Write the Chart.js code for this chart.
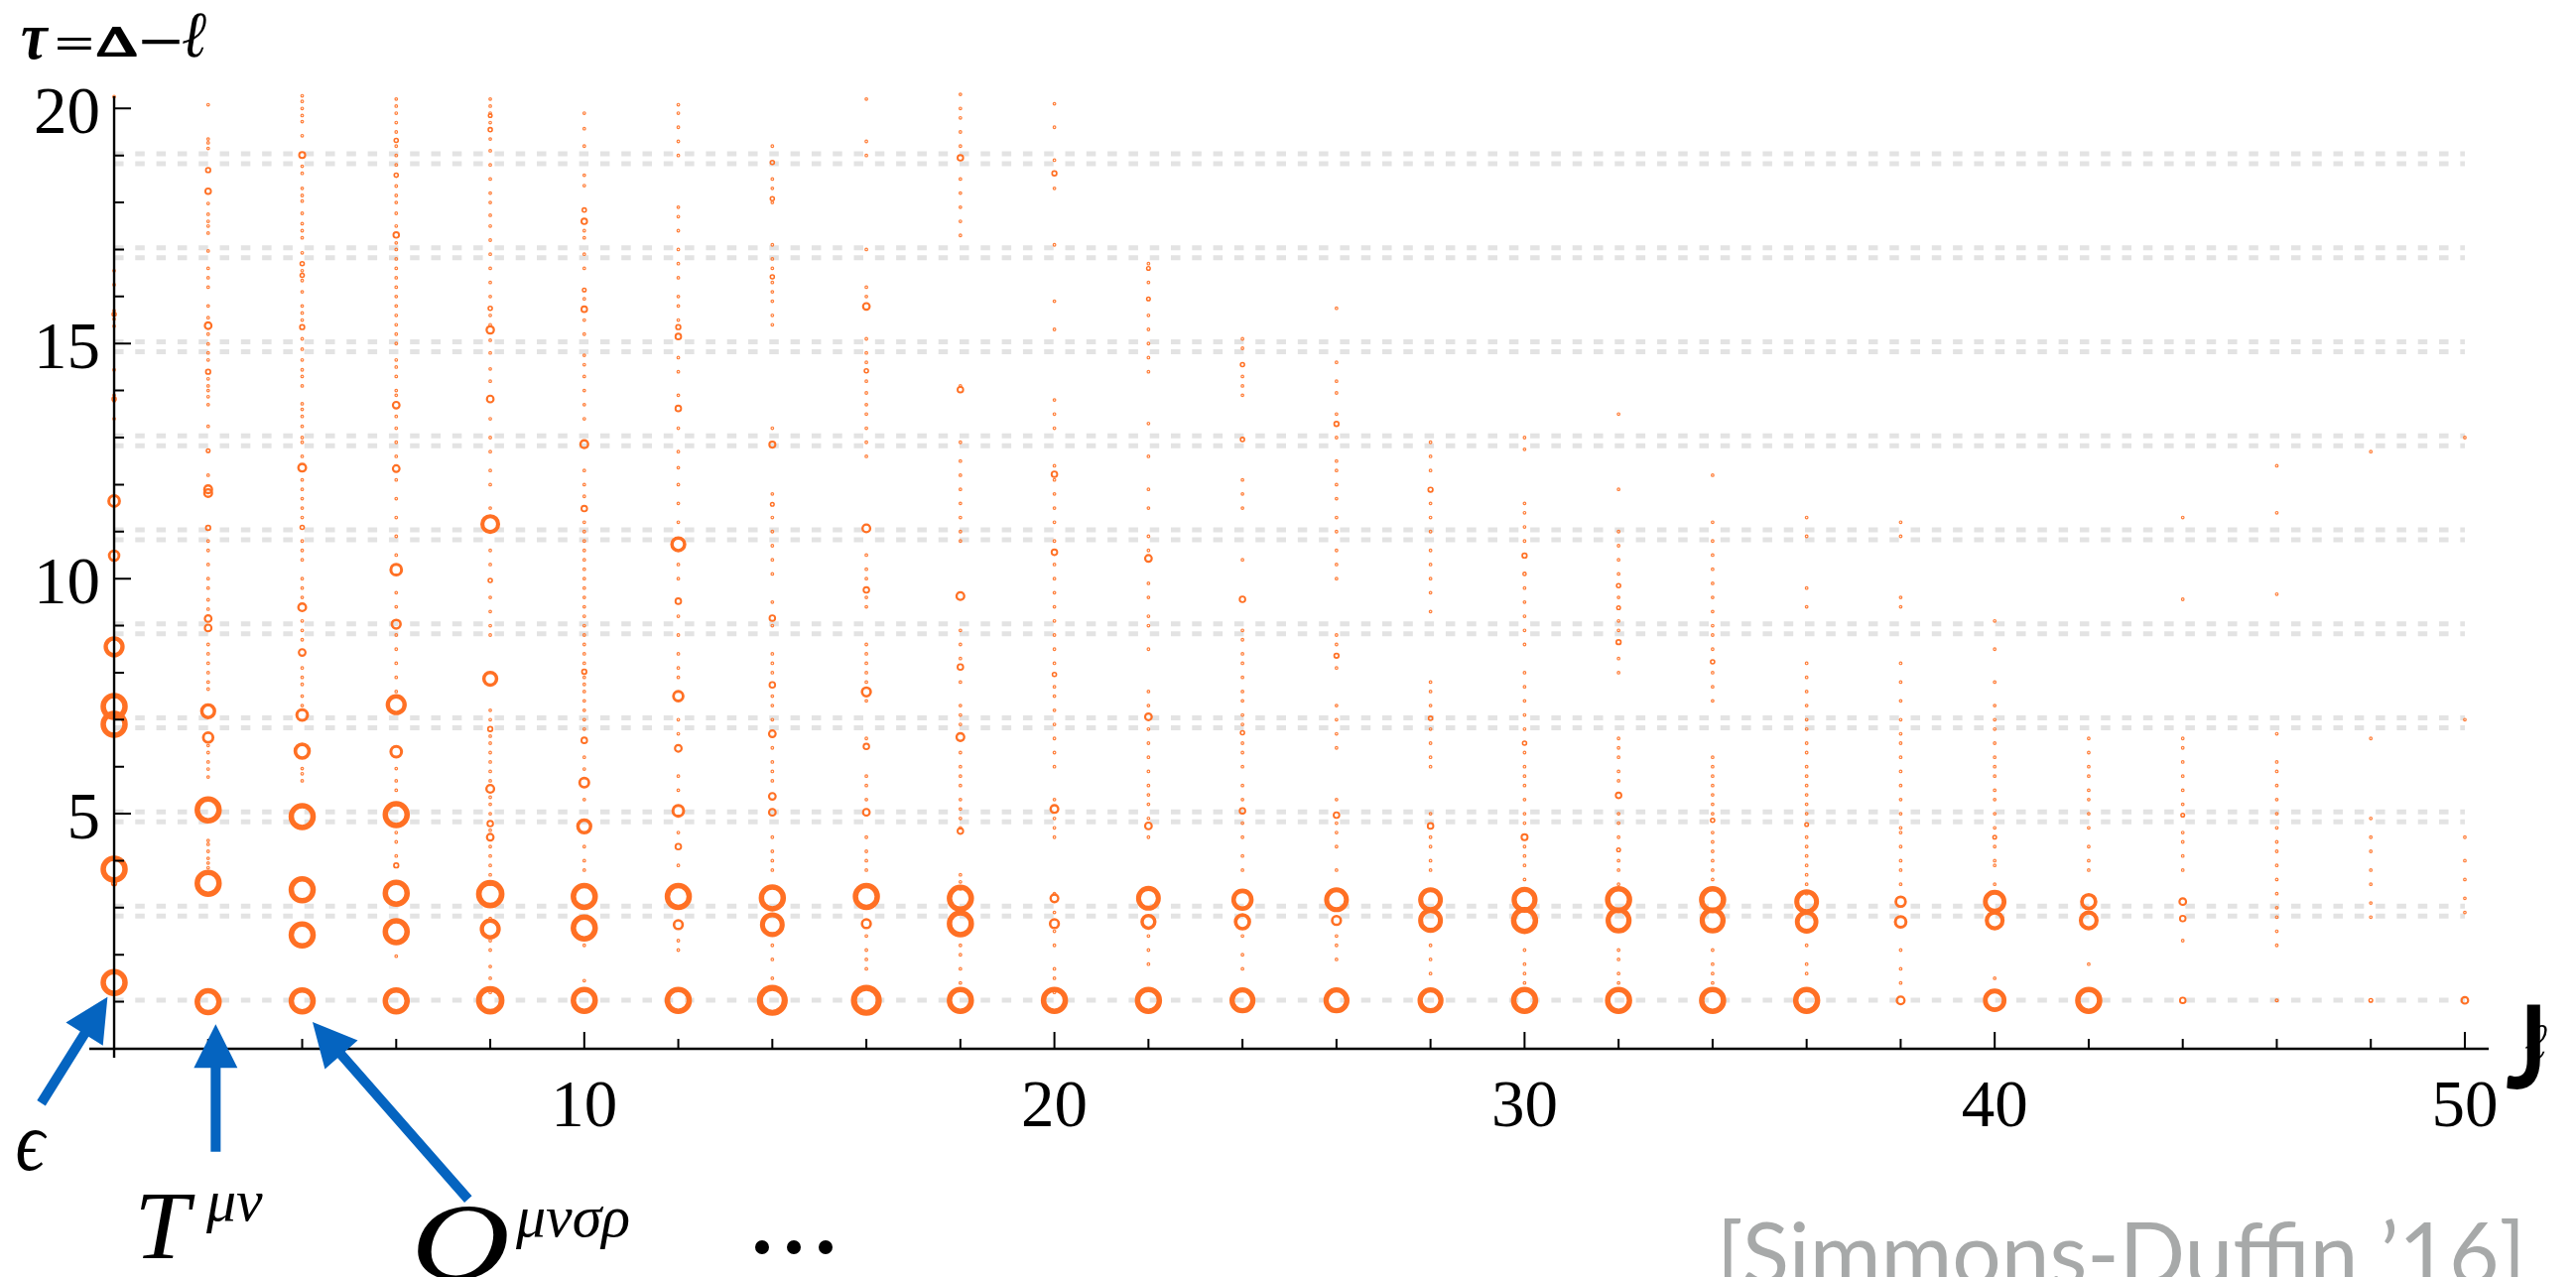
<!DOCTYPE html>
<html>
<head>
<meta charset="utf-8">
<script src="https://cdn.jsdelivr.net/npm/chart.js@4.4.1/dist/chart.umd.min.js"></script>
<style>
  html, body { margin: 0; padding: 0; background: #ffffff; overflow: hidden; }
  canvas { display: block; }
</style>
</head>
<body>
<canvas id="spectrum" width="2596" height="1287"></canvas>
<script>
// ---- 3d Ising Z2-even spectrum: twist tau = Delta - l against spin J ----
const spins = [0, 2, 4, 6, 8, 10, 12, 14, 16, 18, 20, 22, 24, 26, 28, 30, 32, 34, 36, 38, 40, 42, 44, 46, 48, 50];

// Resolved operators per spin: [tau, relative OPE weight]
const ops0  = [[1.41,1],[3.52,0.15],[3.82,1],[6.90,1],[7.28,1],[8.55,0.75],[10.49,0.4],[11.65,0.45],[13.82,0.12],[15.62,0.12]];
const ops2  = [[1.00,1],[3.52,1],[5.08,1],[6.62,0.4],[7.18,0.55],[8.95,0.25],[9.15,0.25],[11.08,0.15],[11.82,0.3],[11.90,0.3],[12.72,0.1],[14.40,0.15],[15.38,0.25],[18.24,0.2],[18.69,0.15]];
const ops4  = [[1.02,1],[2.42,1],[3.38,1],[4.94,1],[6.33,0.6],[7.10,0.45],[8.43,0.25],[9.39,0.3],[11.09,0.12],[12.36,0.3],[15.35,0.15],[16.45,0.12],[16.70,0.12],[19.01,0.22]];
const ops6  = [[1.02,1],[2.49,1],[3.31,1],[3.90,0.15],[4.98,1],[6.32,0.45],[7.32,0.75],[9.03,0.35],[10.19,0.45],[12.34,0.25],[13.69,0.25],[17.31,0.2],[18.58,0.12],[19.32,0.12]];
const ops8  = [[1.03,1.05],[2.55,0.75],[3.29,1.05],[4.50,0.25],[4.79,0.2],[5.53,0.3],[6.80,0.15],[7.87,0.55],[9.96,0.12],[11.16,0.7],[13.82,0.25],[15.29,0.28],[15.75,0.12],[19.55,0.12],[19.85,0.1]];
const ops10 = [[1.03,1],[2.57,1],[3.24,1],[4.73,0.55],[5.66,0.38],[6.56,0.2],[8.02,0.15],[11.49,0.2],[12.86,0.3],[15.73,0.2],[16.14,0.1],[17.60,0.2],[17.84,0.12]];
const ops12 = [[1.03,1],[2.64,0.35],[3.24,1],[4.30,0.2],[5.06,0.45],[6.39,0.25],[7.50,0.4],[9.52,0.2],[10.73,0.55],[13.62,0.2],[15.15,0.2],[15.35,0.15]];
const ops14 = [[1.03,1.15],[2.64,0.9],[3.21,1],[5.03,0.25],[5.37,0.25],[6.70,0.25],[7.74,0.2],[9.16,0.2],[11.58,0.1],[12.85,0.22],[16.42,0.12],[18.08,0.12],[18.85,0.12]];
const ops16 = [[1.03,1.15],[2.66,0.35],[3.24,1],[5.03,0.25],[6.43,0.2],[7.59,0.35],[9.76,0.2],[11.07,0.3],[14.42,0.12],[15.79,0.25]];
const ops18 = [[1.03,1],[2.66,1],[3.20,1],[4.63,0.2],[6.63,0.3],[8.12,0.2],[9.63,0.3],[14.02,0.2],[18.95,0.2]];
const ops20 = [[1.03,1],[2.66,0.35],[3.20,0.3],[5.10,0.3],[7.96,0.12],[10.56,0.2],[12.22,0.2],[18.62,0.15]];
const ops22 = [[1.03,1],[2.70,0.55],[3.20,0.9],[4.74,0.25],[7.06,0.25],[10.43,0.25],[15.95,0.1],[16.60,0.1]];
const ops24 = [[1.03,0.95],[2.70,0.6],[3.17,0.8],[5.06,0.2],[6.72,0.12],[9.56,0.2],[12.96,0.12],[14.55,0.12]];
const ops26 = [[1.03,0.95],[2.73,0.35],[3.17,0.9],[4.97,0.2],[8.36,0.15],[13.29,0.15]];
const ops28 = [[1.03,0.95],[2.73,0.9],[3.17,0.9],[4.74,0.2],[7.03,0.12],[11.89,0.15]];
const ops30 = [[1.03,1],[2.73,1],[3.17,0.95],[4.50,0.22],[6.50,0.12],[10.10,0.08],[10.49,0.15]];
const ops32 = [[1.03,1],[2.73,0.95],[3.17,1],[4.23,0.1],[5.39,0.2],[8.65,0.15],[9.38,0.1],[9.85,0.12]];
const ops34 = [[1.03,1],[2.73,0.95],[3.17,1],[4.86,0.12],[8.23,0.12]];
const ops36 = [[1.03,1],[2.70,0.85],[3.13,0.9],[4.77,0.1]];
const ops38 = [[1.03,0.3],[2.70,0.45],[3.13,0.4]];
const ops40 = [[1.03,0.85],[2.73,0.7],[3.13,0.85],[4.50,0.1]];
const ops42 = [[1.03,1],[2.73,0.7],[3.13,0.6]];
const ops44 = [[1.03,0.2],[2.77,0.2],[3.13,0.25],[4.97,0.1]];
const ops46 = [[1.03,0.06]];
const ops48 = [[1.03,0.1]];
const ops50 = [[1.03,0.25]];

// Weakly coupled operators per spin (tau only)
const faint0  = [13.40,13.78,13.90,14.44,15.37,15.52,15.70,16.25,16.55,20.25];
const faint2  = [3.85,3.95,4.05,4.20,4.35,4.43,5.78,5.95,6.10,6.30,6.45,7.65,7.80,8.00,8.20,8.40,8.60,9.35,9.55,9.80,10.00,10.30,10.60,10.80,12.20,13.24,13.70,13.87,14.00,14.10,14.25,14.65,14.80,14.99,15.20,15.55,15.80,16.20,16.40,16.60,16.97,17.35,17.50,17.60,17.75,17.98,19.15,19.27,19.35,20.08];
const faint4  = [5.70,5.85,5.96,7.30,7.50,7.75,7.90,8.10,8.70,8.90,9.10,9.60,9.80,10.00,10.40,10.60,10.80,11.30,11.50,11.70,11.90,12.10,12.60,12.90,13.00,13.24,13.45,13.60,13.72,14.10,14.30,14.44,14.65,14.88,15.10,15.50,15.65,15.80,16.10,16.34,16.55,16.93,17.25,17.40,17.55,17.77,18.03,18.15,18.30,18.62,18.77,19.42,19.72,19.85,20.00,20.15,20.27];
const faint6  = [1.97,4.10,4.40,4.60,5.50,5.70,5.96,7.60,7.90,8.20,8.50,8.80,9.40,9.70,10.50,10.90,11.30,11.70,12.10,12.60,12.90,13.20,13.45,13.90,14.00,14.30,14.50,14.65,15.00,15.20,15.40,15.60,15.80,16.00,16.20,16.40,16.60,16.80,17.00,17.14,17.50,17.77,18.00,18.15,18.35,18.80,19.00,19.20,19.50,19.70,19.90,20.05,20.20];
const faint8  = [1.20,1.50,1.75,2.10,2.30,2.77,3.50,3.70,3.90,4.10,4.30,4.65,5.00,5.20,5.35,5.70,5.90,6.10,6.30,6.50,6.65,7.00,7.20,8.80,9.00,9.30,9.60,10.30,10.60,11.50,12.00,12.30,12.70,13.00,13.40,14.20,14.46,14.80,15.07,15.40,15.60,16.00,16.30,16.60,16.90,17.20,17.50,17.73,18.00,18.20,18.50,18.80,19.10,19.35,19.70,19.90,20.05,20.20];
const faint10 = [1.45,2.20,3.80,4.00,4.30,5.30,5.95,6.20,6.80,7.00,7.20,7.40,7.60,7.75,7.90,8.20,8.40,8.60,8.80,9.00,9.20,9.40,9.60,9.80,10.00,10.20,10.40,10.60,10.80,11.00,11.20,11.75,12.00,12.30,13.40,13.70,14.00,14.30,14.55,14.75,15.20,15.50,15.95,16.60,16.90,17.25,17.40,18.36,18.58,19.20,19.57,19.90];
const faint12 = [2.10,2.30,3.90,4.60,5.50,5.80,6.70,7.00,7.90,8.10,8.40,8.80,9.20,10.00,10.30,11.20,11.60,12.00,12.36,12.70,13.20,13.90,14.40,14.70,15.50,15.80,16.00,16.40,16.70,17.00,17.40,17.70,17.90,19.00,19.30,19.60,19.90,20.08];
const faint14 = [1.50,1.90,2.20,3.80,4.00,4.20,4.50,5.70,5.90,6.10,6.40,7.00,7.30,7.50,8.00,8.20,8.40,9.00,9.50,10.10,10.40,10.70,11.00,11.30,11.80,13.20,15.40,15.60,15.90,16.10,16.30,16.60,16.80,17.10,18.00,18.30,18.50,19.20];
const faint16 = [1.70,1.90,2.10,2.40,3.80,4.00,4.20,4.50,5.30,5.60,5.80,6.60,7.40,7.80,8.00,8.20,8.40,8.60,9.40,9.60,10.00,10.20,10.50,12.60,12.90,13.20,13.50,13.70,13.95,14.20,14.60,14.80,15.10,16.00,16.20,17.00,19.00,19.30,20.20];
const faint18 = [1.40,1.70,2.00,2.20,3.40,3.55,3.70,4.70,4.90,5.10,5.30,5.60,5.80,6.00,6.30,6.90,7.10,7.30,7.80,8.30,8.60,8.90,10.80,11.00,11.30,11.60,11.90,12.20,12.50,12.90,14.10,17.30,17.60,17.90,18.20,18.50,19.20,19.50,19.80,20.00,20.30];
const faint20 = [1.20,1.50,1.70,2.20,2.50,2.90,3.30,4.50,4.70,4.90,5.30,6.00,6.30,6.60,6.90,7.20,7.50,7.70,8.20,8.50,8.80,9.10,9.40,9.70,10.00,10.30,10.80,11.20,11.50,11.80,12.10,12.40,13.20,13.50,13.80,15.30,15.90,17.10,18.30,18.90,19.60,20.10];
const faint22 = [1.80,2.10,2.40,4.50,4.90,5.20,5.40,5.60,5.90,6.20,6.50,6.80,7.30,7.60,8.50,9.00,9.20,9.60,9.90,10.60,10.90,11.50,11.90,12.60,13.30,14.40,14.70,15.00,15.30,15.60,16.30,16.70];
const faint24 = [1.70,2.00,2.40,3.80,4.10,4.50,4.80,5.30,5.60,6.00,6.30,6.50,6.90,7.10,7.40,7.60,7.90,8.20,8.40,8.70,8.90,10.40,11.50,11.80,12.10,13.90,14.10,14.30,14.90,15.10];
const faint26 = [1.90,2.20,2.40,3.80,4.30,4.60,4.80,5.30,6.40,6.70,7.00,7.30,8.10,8.60,8.80,10.00,10.30,10.60,11.00,11.30,11.70,12.00,12.30,12.50,13.00,13.50,13.95,14.20,14.60,15.75];
const faint28 = [1.60,1.90,2.20,3.80,4.00,4.30,4.50,5.00,6.00,6.20,6.50,6.80,7.30,7.60,7.80,9.30,9.70,10.00,10.30,10.60,11.00,11.30,11.60,12.30,12.60,12.90];
const faint30 = [1.40,1.60,1.80,2.10,3.40,3.60,3.90,4.10,4.30,4.80,5.00,5.30,5.60,5.80,6.00,6.30,6.80,7.10,7.40,7.70,8.00,8.60,8.90,9.20,9.50,9.80,10.80,11.10,11.40,11.60,12.75,13.00];
const faint32 = [1.40,1.60,1.90,2.10,3.50,3.80,4.00,4.50,4.80,5.00,5.70,5.90,6.20,6.40,6.60,8.00,8.30,8.90,9.10,9.60,10.10,10.40,10.70,11.00,11.90,13.50];
const faint34 = [1.40,1.60,1.80,2.10,3.40,3.60,3.80,4.00,4.20,4.40,4.60,5.00,5.20,5.40,5.60,5.80,6.00,6.20,7.40,7.70,8.00,8.50,8.80,9.00,9.30,9.60,9.90,10.20,10.50,10.80,11.20,12.20];
const faint36 = [1.60,1.80,2.20,3.30,3.50,3.70,3.90,4.10,4.30,4.50,5.00,5.20,5.40,5.60,5.80,6.00,6.30,6.50,6.80,7.00,7.30,7.60,7.90,8.20,9.40,9.80,10.90,11.30];
const faint38 = [1.40,1.70,2.10,3.50,3.80,4.00,4.30,4.60,4.70,5.00,5.30,5.60,5.90,6.20,6.50,6.70,7.00,7.40,7.80,8.20,9.40,9.60,10.90,11.20];
const faint40 = [1.50,3.50,3.90,4.00,4.30,4.70,5.00,5.30,5.50,5.80,6.00,6.20,6.50,6.80,7.00,7.30,7.80,8.50,9.10];
const faint42 = [1.80,3.80,4.00,4.30,4.70,5.00,5.30,5.50,5.80,6.00,6.30,6.60];
const faint44 = [2.30,3.80,4.10,4.40,4.60,5.20,5.50,5.80,6.10,6.40,6.60,9.56,11.30];
const faint46 = [2.20,2.50,2.80,3.00,3.30,3.60,3.90,4.20,4.40,4.70,5.00,5.30,5.60,5.90,6.10,6.70,9.67,11.40,12.40];
const faint48 = [2.80,3.10,3.50,3.80,4.20,4.50,4.90,6.60,12.70];
const faint50 = [2.90,3.20,3.60,4.00,4.50,7.00,13.00];

const opsBySpin = [ops0, ops2, ops4, ops6, ops8, ops10, ops12, ops14, ops16, ops18, ops20, ops22, ops24,
                   ops26, ops28, ops30, ops32, ops34, ops36, ops38, ops40, ops42, ops44, ops46, ops48, ops50];
const faintBySpin = [faint0, faint2, faint4, faint6, faint8, faint10, faint12, faint14, faint16, faint18, faint20,
                     faint22, faint24, faint26, faint28, faint30, faint32, faint34, faint36, faint38, faint40,
                     faint42, faint44, faint46, faint48, faint50];

// Large-spin asymptotes: [sigma sigma]_n -> 2 Delta_sigma + 2n, [eps eps]_n -> 2 Delta_eps + 2n
const sigmaSigmaTau = [1.036, 3.036, 5.036, 7.036, 9.036, 11.036, 13.036, 15.036, 17.036, 19.036];
const epsEpsTau     = [2.825, 4.825, 6.825, 8.825, 10.825, 12.825, 14.825, 16.825, 18.825];

// Axis tick labels
const xTickLabels = [10, 20, 30, 40, 50];
const yTickLabels = [5, 10, 15, 20];

// ---- build chart data ----
const ORANGE = 'rgb(255,112,36)';
const ringPoints = [];
const faintPoints = [];
spins.forEach((J, i) => {
  opsBySpin[i].forEach(([t, w]) => ringPoints.push({ x: J, y: t, w }));
  faintBySpin[i].forEach(t => faintPoints.push({ x: J, y: t }));
});

const asymptoteSets = [...sigmaSigmaTau, ...epsEpsTau].map(t => ({
  type: 'line',
  data: [{ x: 0, y: t }, { x: 50, y: t }],
  borderColor: '#e3e3e3',
  borderWidth: 5,
  borderDash: [9.5, 11.8],
  pointRadius: 0,
  fill: false,
  clip: false,
  order: 3
}));

const wOf = ctx => (ctx.raw && typeof ctx.raw.w === 'number') ? ctx.raw.w : 0.5;

const datasets = [
  {
    type: 'scatter',
    data: ringPoints,
    borderColor: ORANGE,
    backgroundColor: 'rgba(0,0,0,0)',
    pointStyle: 'circle',
    pointRadius: ctx => 0.8 + 10.2 * wOf(ctx),
    pointBorderWidth: ctx => 1 + 4.5 * wOf(ctx),
    clip: false,
    order: 0
  },
  {
    type: 'scatter',
    data: faintPoints,
    borderColor: 'rgba(255,112,36,0.9)',
    backgroundColor: 'rgba(0,0,0,0)',
    pointStyle: 'circle',
    pointRadius: 1.3,
    pointBorderWidth: 1.2,
    clip: false,
    order: 1
  },
  ...asymptoteSets
];

// ---- axes, labels and annotations ----
const SERIF = '"Liberation Serif", "DejaVu Serif", serif';

// draw one glyph stretched into the box [x0,x1] x [y0,y1]; optional outline to thicken strokes
function glyphInBox(ctx, ch, font, x0, y0, x1, y1, outline) {
  ctx.font = font;
  ctx.textAlign = 'left';
  ctx.textBaseline = 'alphabetic';
  const m = ctx.measureText(ch);
  const w = m.actualBoundingBoxLeft + m.actualBoundingBoxRight;
  const h = m.actualBoundingBoxAscent + m.actualBoundingBoxDescent;
  ctx.save();
  ctx.translate(x0, y0);
  ctx.scale((x1 - x0) / w, (y1 - y0) / h);
  ctx.fillText(ch, m.actualBoundingBoxLeft, m.actualBoundingBoxAscent);
  if (outline) {
    ctx.lineWidth = outline;
    ctx.strokeStyle = ctx.fillStyle;
    ctx.strokeText(ch, m.actualBoundingBoxLeft, m.actualBoundingBoxAscent);
  }
  ctx.restore();
}

function arrow(ctx, x0, y0, x1, y1, shaft, headLen, headHalf) {
  const dx = x1 - x0, dy = y1 - y0, L = Math.hypot(dx, dy);
  const ux = dx / L, uy = dy / L, nx = -uy, ny = ux;
  const bx = x1 - ux * headLen, by = y1 - uy * headLen;
  ctx.beginPath();
  ctx.moveTo(x0 + nx * shaft / 2, y0 + ny * shaft / 2);
  ctx.lineTo(bx + nx * shaft / 2, by + ny * shaft / 2);
  ctx.lineTo(bx + nx * headHalf, by + ny * headHalf);
  ctx.lineTo(x1, y1);
  ctx.lineTo(bx - nx * headHalf, by - ny * headHalf);
  ctx.lineTo(bx - nx * shaft / 2, by - ny * shaft / 2);
  ctx.lineTo(x0 - nx * shaft / 2, y0 - ny * shaft / 2);
  ctx.closePath();
  ctx.fill();
}

// arrows pointing at the leading operators, in (J, tau) units
const pointers = [
  { from: [-1.55, -1.155], to: [-0.14, 1.10] },   // epsilon
  { from: [2.16, -2.19],   to: [2.16, 0.52] },    // stress tensor
  { from: [7.53, -3.20],   to: [4.22, 0.57] }     // spin-4 operator
];

const decor = {
  id: 'decor',
  afterDatasetsDraw(chart) {
    const { ctx, scales: { x, y } } = chart;
    const X = v => x.getPixelForValue(v);
    const Y = v => y.getPixelForValue(v);
    ctx.save();
    ctx.fillStyle = '#000';
    ctx.strokeStyle = '#000';

    // axes through the origin
    ctx.lineWidth = 2.4;
    ctx.beginPath();
    ctx.moveTo(x.left, Y(0)); ctx.lineTo(x.right, Y(0));
    ctx.moveTo(X(0), y.bottom); ctx.lineTo(X(0), y.top);
    ctx.stroke();

    // ticks: y every 1, x every 2; longer at labelled values
    ctx.lineWidth = 2;
    ctx.beginPath();
    for (let v = 1; v <= 20; v++) {
      const len = yTickLabels.includes(v) ? 17 : 10;
      ctx.moveTo(X(0), Y(v)); ctx.lineTo(X(0) + len, Y(v));
    }
    for (let j = 2; j <= 50; j += 2) {
      const len = xTickLabels.includes(j) ? 17 : 10;
      ctx.moveTo(X(j), Y(0)); ctx.lineTo(X(j), Y(0) - len);
    }
    ctx.stroke();

    // tick labels
    ctx.font = `67px ${SERIF}`;
    ctx.textBaseline = 'alphabetic';
    ctx.textAlign = 'right';
    yTickLabels.forEach(v => ctx.fillText(String(v), X(0) - 14, Y(v) + 25));
    ctx.textAlign = 'center';
    xTickLabels.forEach(v => ctx.fillText(String(v), X(v), Y(0) + 78));

    // vertical axis title  tau = Delta - l
    glyphInBox(ctx, 'τ', `italic bold 60px ${SERIF}`, 22, 28, 50, 60);
    glyphInBox(ctx, '=', `bold 60px ${SERIF}`, 57, 38, 92, 50);
    glyphInBox(ctx, 'Δ', `60px ${SERIF}`, 99, 29, 137, 57, 2.6);
    glyphInBox(ctx, '−', `bold 60px ${SERIF}`, 143, 40, 182, 45);
    glyphInBox(ctx, 'ℓ', `italic bold 60px ${SERIF}`, 184, 13, 208, 58);

    // horizontal axis title  J_l
    glyphInBox(ctx, 'J', 'bold 120px Lato, "DejaVu Sans", sans-serif', 2526, 1012, 2560, 1098);
    glyphInBox(ctx, 'ℓ', `italic 60px ${SERIF}`, 2545, 1033, 2567, 1068);

    // pointers
    ctx.fillStyle = '#0564c0';
    pointers.forEach(p => arrow(ctx, X(p.from[0]), Y(p.from[1]), X(p.to[0]), Y(p.to[1]), 10, 44, 22));

    // operator names
    ctx.fillStyle = '#000';
    ctx.textAlign = 'left';
    ctx.textBaseline = 'alphabetic';
    glyphInBox(ctx, 'ϵ', `italic 92px ${SERIF}`, 17, 1140, 48, 1180);
    glyphInBox(ctx, 'T', `italic 92px ${SERIF}`, 142, 1205, 197, 1268);
    ctx.font = `italic 60px ${SERIF}`;
    ctx.fillText('μν', 208, 1230);
    glyphInBox(ctx, 'O', `italic 96px ${SERIF}`, 420, 1215, 512, 1290);
    ctx.font = `italic 60px ${SERIF}`;
    ctx.fillText('μνσρ', 520, 1246);
    ctx.beginPath();
    [768, 800, 832].forEach(cx => { ctx.moveTo(cx + 7, 1257); ctx.arc(cx, 1257, 7, 0, Math.PI * 2); });
    ctx.fill();

    // citation
    ctx.fillStyle = '#a7a9a9';
    const cite = '[Simmons-Duffin ’16]';
    ctx.font = '100px Lato, "DejaVu Sans", sans-serif';
    const wAt100 = ctx.measureText(cite).width;
    const size = 100 * 815 / wAt100;
    ctx.font = `${size.toFixed(1)}px Lato, "DejaVu Sans", sans-serif`;
    ctx.fillText(cite, 1730, 1232 + 0.72 * size);

    ctx.restore();
  }
};

new Chart(document.getElementById('spectrum'), {
  type: 'scatter',
  data: { datasets },
  options: {
    responsive: false,
    devicePixelRatio: 1,
    animation: false,
    events: [],
    layout: { padding: { left: 90, right: 88, top: 97, bottom: 221 } },
    plugins: { legend: { display: false }, tooltip: { enabled: false } },
    scales: {
      x: { type: 'linear', min: -0.528, max: 50.507, display: false },
      y: { type: 'linear', min: -0.19, max: 20.26, display: false }
    }
  },
  plugins: [decor]
});
</script>
</body>
</html>
